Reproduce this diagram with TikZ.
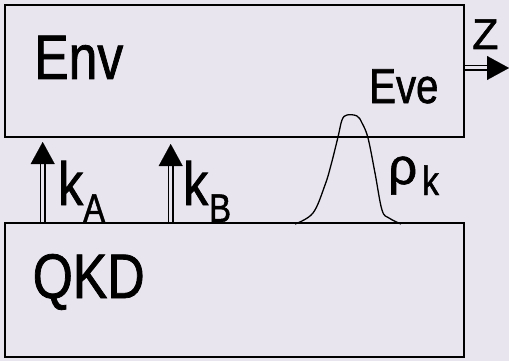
\documentclass[tikz,border=0pt]{standalone}
\usepackage{fontspec}
\setmainfont{Liberation Sans}[FakeStretch=0.82,FakeBold=1.2]
\newfontfamily\grkfont{Liberation Sans}[FakeBold=1.2]
\usetikzlibrary{arrows.meta}
\definecolor{bgc}{RGB}{233,229,239}
\tikzset{
  box/.style={draw=black, line width=1.6pt},
  shaft/.style={draw=black, double=bgc, line width=1.7pt, double distance=3pt},
  head/.style={line width=0.1pt, -{Triangle[length=22pt,width=24pt]}},
  lbl/.style={inner sep=0pt, anchor=base west, text=black},
  curve/.style={draw=black, line width=1.3pt}
}
\begin{document}
\begin{tikzpicture}[x=1pt,y=-1pt]
\useasboundingbox (0,0) rectangle (509,361);
\fill[bgc] (0,0) rectangle (509,361);
% boxes
\draw[box] (5,5) rectangle (464,137);
\draw[box] (5,223) rectangle (464,357);
% labels
\node[lbl, font=\fontsize{63}{63}\selectfont] (env) at (34,79) {Env};
\node[lbl, font=\fontsize{49}{49}\selectfont] (eve) at (369,103) {Eve};
\node[lbl, font=\fontsize{63}{63}\selectfont] (qkd) at (32.5,298) {QKD};
\node[lbl, font=\grkfont\fontsize{43}{43}\selectfont] (z) at (472,49) {Z};
\node[lbl, font=\fontsize{61}{61}\selectfont] (ka) at (58,205) {k};
\node[lbl, font=\fontsize{40}{40}\selectfont] (sa) at (83,222) {A};
\node[lbl, font=\fontsize{61}{61}\selectfont] (kb) at (183,205) {k};
\node[lbl, font=\fontsize{40}{40}\selectfont] (sb) at (209,222) {B};
\node[lbl, font=\grkfont\fontsize{51}{51}\selectfont] (rho) at (388,184) {ρ};
\node[lbl, font=\fontsize{41}{41}\selectfont] (sk) at (422,195) {k};
% arrow A
\coordinate (aA0) at (42.7,222);
\coordinate (aA1) at (42.7,162);
\coordinate (aA2) at (42.7,142);
\draw[shaft] (aA0) -- (aA1);
\draw[head] (aA1) -- (aA2);
% arrow B
\coordinate (aB0) at (170.7,222);
\coordinate (aB1) at (170.7,164);
\coordinate (aB2) at (170.7,144);
\draw[shaft] (aB0) -- (aB1);
\draw[head] (aB1) -- (aB2);
% arrow Z
\coordinate (aZ0) at (465,68);
\coordinate (aZ1) at (489,68);
\coordinate (aZ2) at (509,68);
\draw[shaft] (aZ0) -- (aZ1);
\draw[head] (aZ1) -- (aZ2);
% wave packet
\draw[curve] plot[smooth, tension=0.6] coordinates {(295,224) (313,213) (325,185) (331,165) (338,137) (342,120) (347,115) (357,116) (362,123) (368,138) (375,173) (382,210) (389,218) (401,224)};
\end{tikzpicture}
\end{document}
